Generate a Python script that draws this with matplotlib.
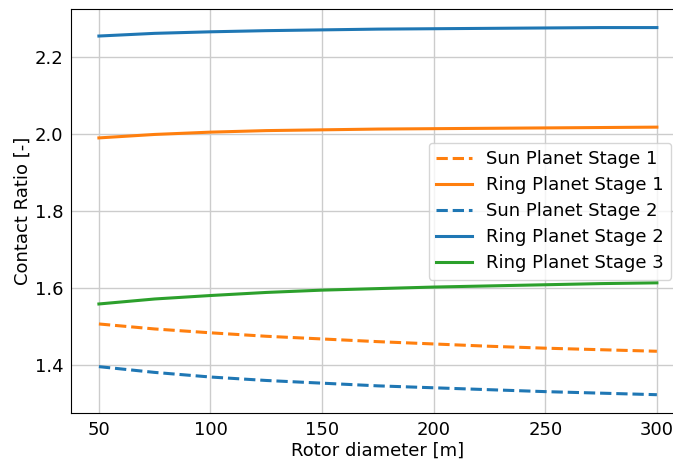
import numpy as np
import matplotlib.pyplot as plt

# Contact ratio vs rotor diameter for each gear mesh
rotor_diameter = [50, 75, 100, 125, 150, 175, 200, 225, 250, 275, 300]

sun_planet_1 = [1.506, 1.493, 1.483, 1.474, 1.467, 1.460, 1.454, 1.448, 1.443, 1.439, 1.435]
ring_planet_1 = [1.990, 1.999, 2.005, 2.009, 2.011, 2.013, 2.014, 2.015, 2.016, 2.017, 2.018]
sun_planet_2 = [1.395, 1.380, 1.368, 1.359, 1.352, 1.345, 1.340, 1.335, 1.330, 1.326, 1.322]
ring_planet_2 = [2.255, 2.262, 2.266, 2.269, 2.271, 2.273, 2.274, 2.275, 2.276, 2.277, 2.277]
ring_planet_3 = [1.558, 1.571, 1.580, 1.588, 1.594, 1.598, 1.602, 1.605, 1.608, 1.611, 1.613]

plt.rcParams['font.size'] = 13

fig = plt.figure(figsize=(6.73, 4.61), dpi=100)
ax = fig.add_axes([0.1055, 0.104, 0.912, 0.876])

ax.plot(rotor_diameter, sun_planet_1, '--', color='tab:orange', lw=2.2, label='Sun Planet Stage 1')
ax.plot(rotor_diameter, ring_planet_1, '-', color='tab:orange', lw=2.2, label='Ring Planet Stage 1')
ax.plot(rotor_diameter, sun_planet_2, '--', color='tab:blue', lw=2.2, label='Sun Planet Stage 2')
ax.plot(rotor_diameter, ring_planet_2, '-', color='tab:blue', lw=2.2, label='Ring Planet Stage 2')
ax.plot(rotor_diameter, ring_planet_3, '-', color='tab:green', lw=2.2, label='Ring Planet Stage 3')

ax.set_xticks([50, 100, 150, 200, 250, 300])
ax.set_yticks([1.4, 1.6, 1.8, 2.0, 2.2])
ax.tick_params(length=0, pad=5.5)
ax.grid(True, color='#cccccc', lw=1)
ax.set_xlabel('Rotor diameter [m]', labelpad=2)
ax.set_ylabel('Contact Ratio [-]', labelpad=2)
ax.legend(loc='center right', bbox_to_anchor=(0.993, 0.5), labelspacing=0.45)

fig.savefig('out.png', dpi=100)
